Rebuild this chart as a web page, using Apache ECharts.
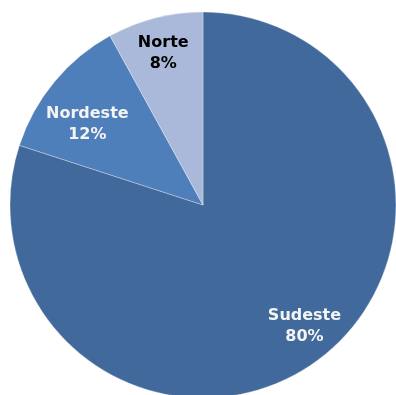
<!DOCTYPE html>
<html>
<head>
<meta charset="utf-8">
<script src="https://cdn.jsdelivr.net/npm/echarts@6/dist/echarts.min.js"></script>
<style>
html,body{margin:0;padding:0;background:#fff;}
#chart{width:396px;height:395px;}
</style>
</head>
<body>
<div id="chart"></div>
<script>
const categories = ['Sudeste', 'Nordeste', 'Norte'];
const values = [80, 12, 8];

const colors = ['#41699B', '#4E7FBB', '#AAB9D9'];
const labelColors = ['#F4F4F4', '#F4F4F4', '#000000'];
// label shift from the default 'inside' position (Excel "best fit" placement)
const labelShift = [[43, 41], [-39, -17], [-15, -55]];

const chart = echarts.init(document.getElementById('chart'), null, {renderer: 'canvas'});
chart.setOption({
  animation: false,
  series: [{
    type: 'pie',
    center: [203, 205],
    radius: [0, 193],
    startAngle: 90,
    clockwise: true,
    silent: true,
    itemStyle: {borderColor: 'rgba(255,255,255,0.6)', borderWidth: 0.5},
    label: {
      show: true,
      position: 'inside',
      fontFamily: 'DejaVu Sans',
      fontWeight: 'bold',
      fontSize: 16,
      lineHeight: 21,
      align: 'center',
      formatter: function (p) { return p.name + '\n' + Math.round(p.percent) + '%'; }
    },
    labelLine: {show: false},
    labelLayout: function (p) {
      const s = labelShift[p.dataIndex];
      return {dx: s[0], dy: s[1]};
    },
    data: categories.map(function (c, i) {
      return {
        name: c,
        value: values[i],
        itemStyle: {color: colors[i]},
        label: {color: labelColors[i]}
      };
    })
  }]
});
</script>
</body>
</html>
